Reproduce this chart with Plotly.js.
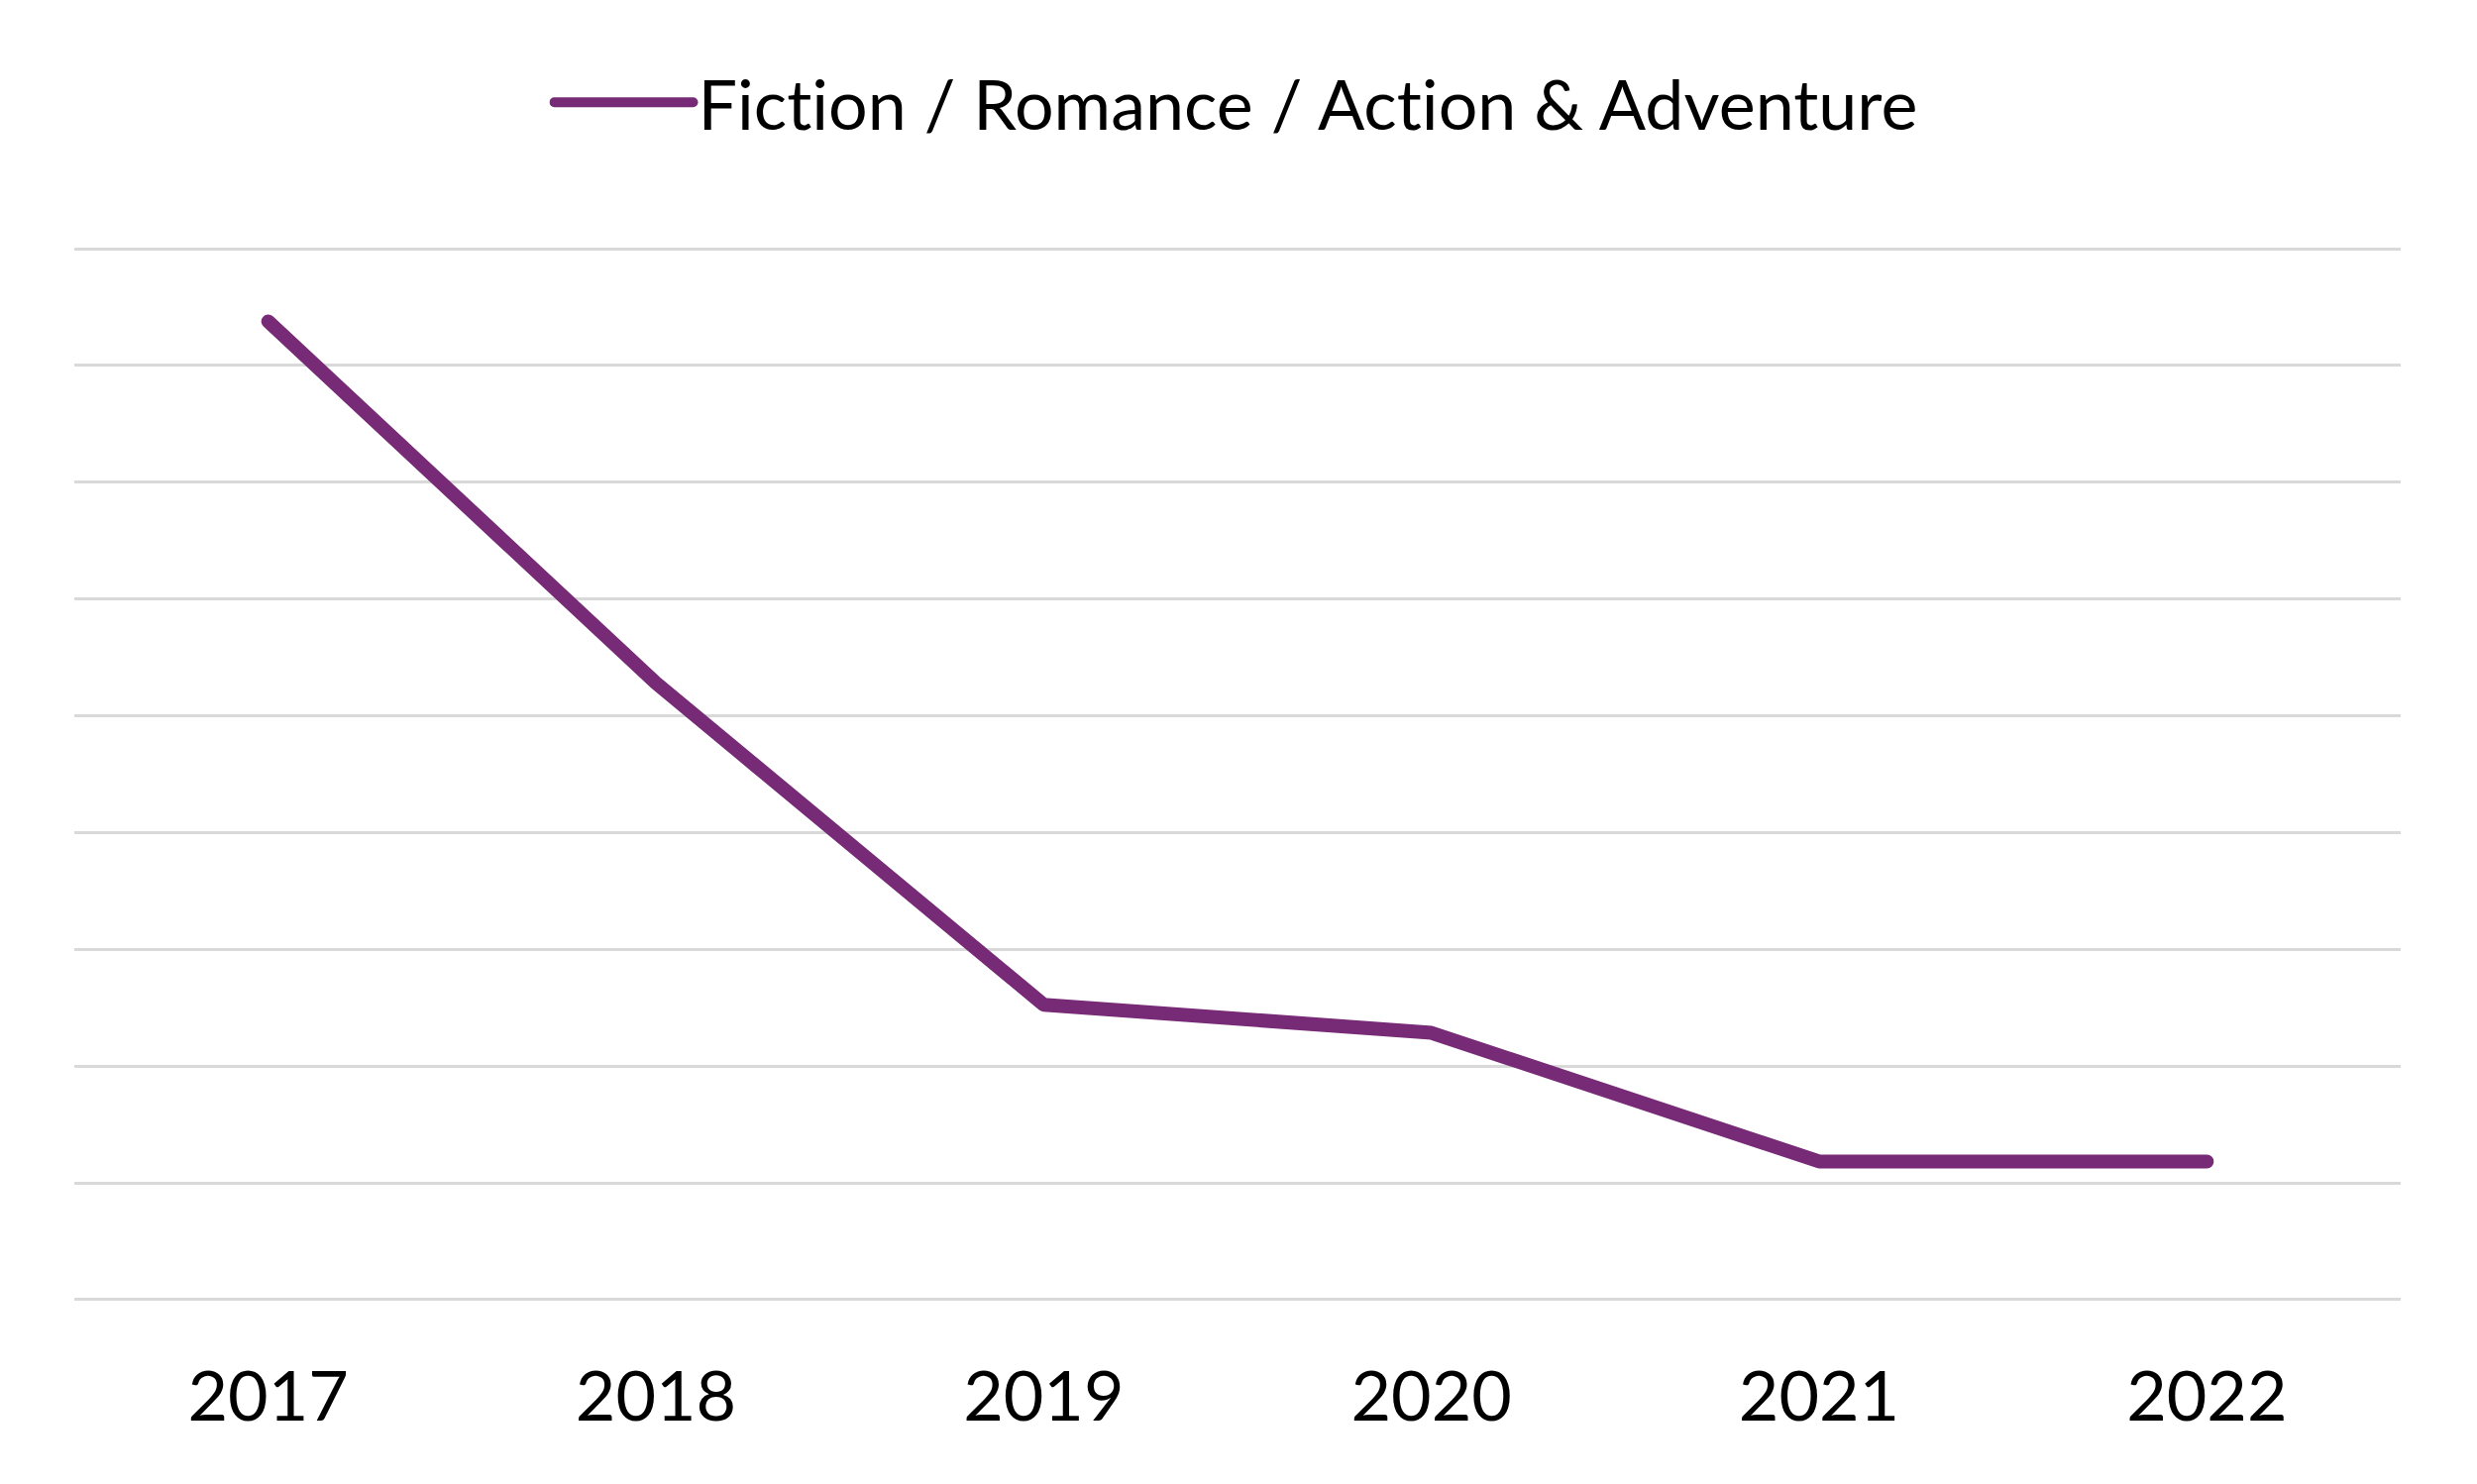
<!DOCTYPE html>
<html>
<head>
<meta charset="utf-8">
<script src="https://cdn.plot.ly/plotly-3.0.1.min.js"></script>
<style>
  html, body { margin: 0; padding: 0; background: #fff; }
  #grafik { width: 2500px; height: 1498px; }
  #grafik text {
    font-variant-ligatures: none !important;
    font-feature-settings: "liga" 0, "clig" 0, "calt" 0, "dlig" 0 !important;
  }
  #grafik .scatterlayer path.js-line,
  #grafik .legend path.js-line { stroke-linecap: round !important; stroke-linejoin: round !important; }
</style>
</head>
<body>
<div id="grafik"></div>
<script>
// values (gridlines taken as one unit apart, 0..9)
const years = ["2017", "2018", "2019", "2020", "2021", "2022"];
const values = [8.37, 5.28, 2.53, 2.29, 1.19, 1.19];
const seriesName = "Fiction / Romance / Action & Adventure";
const yMin = 0;
const yMax = 9;

const data = [{
    x: years,
    y: values,
    name: seriesName,
    mode: "lines",
    type: "scatter",
    line: { color: "#772a76", width: 14 },
    showlegend: true
}];

// plotly leaves out gridlines sitting on the plot edge, so draw those two as shapes
// (half of the stroke gets clipped at the edge, hence the double width)
const edgeLines = [yMin, yMax].map(v => ({
    type: "line", xref: "paper", yref: "y",
    x0: 0, x1: 1, y0: v, y1: v,
    line: { color: "#d9d9d9", width: 6 },
    layer: "below"
}));

const layout = {
    width: 2500,
    height: 1498,
    paper_bgcolor: "#ffffff",
    plot_bgcolor: "#ffffff",
    margin: { l: 75, r: 77, t: 250, b: 185 },
    font: { family: "Lato, 'Open Sans', sans-serif", size: 70, color: "#000000" },
    showlegend: true,
    legend: {
        orientation: "h",
        x: 0.5, xanchor: "center",
        y: 1.138, yanchor: "middle",
        itemwidth: 140,
        font: { size: 70, color: "#000000" }
    },
    shapes: edgeLines,
    xaxis: {
        type: "category",
        range: [-0.5, 5.5],
        showgrid: false,
        zeroline: false,
        showline: false,
        ticks: "",
        ticklabelstandoff: 50,
        tickfont: { size: 70, color: "#000000" }
    },
    yaxis: {
        range: [yMin, yMax],
        tick0: 0,
        dtick: 1,
        showgrid: true,
        gridcolor: "#d9d9d9",
        gridwidth: 3,
        zeroline: false,
        showline: false,
        showticklabels: false,
        ticks: ""
    }
};

Plotly.newPlot("grafik", data, layout, { displayModeBar: false, staticPlot: true });
</script>
</body>
</html>
